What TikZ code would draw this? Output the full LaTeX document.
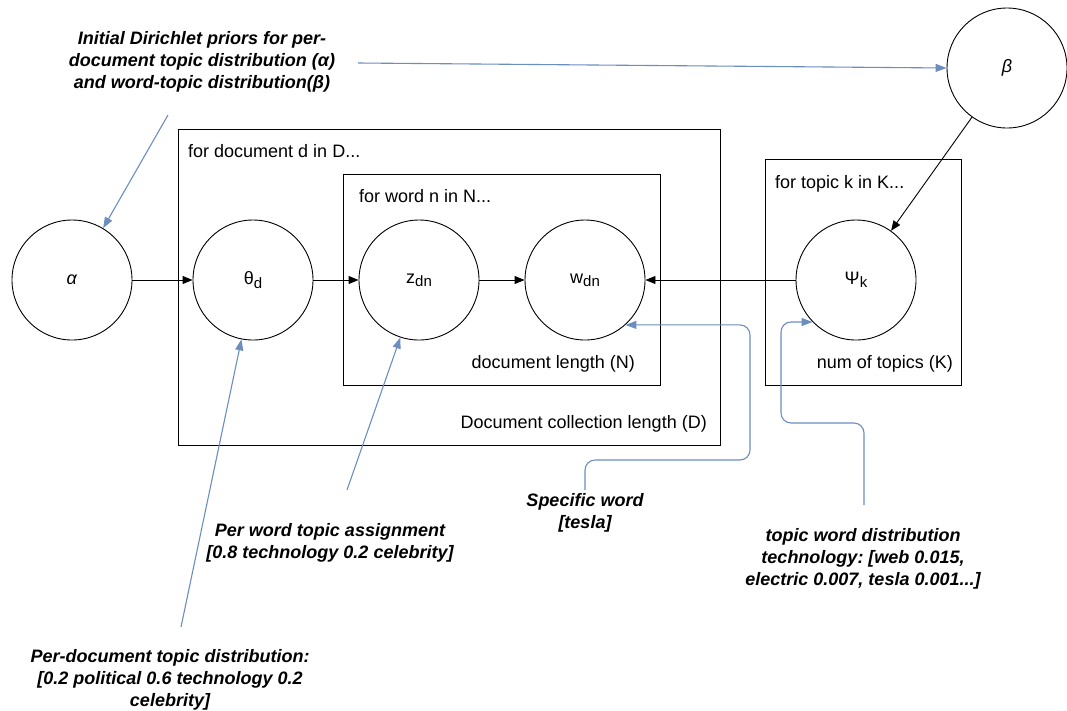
\documentclass[tikz,border=0pt]{standalone}
\usepackage{fontspec}
\setmainfont{Liberation Sans}
\usetikzlibrary{arrows.meta}
\definecolor{annblue}{HTML}{6C8EBF}
\newcommand{\varsub}[1]{\raisebox{-0.35ex}{\fontsize{15}{15}\selectfont #1}}
\frenchspacing
\tikzset{
  var/.style={circle, draw=black, line width=0.9pt, minimum size=120pt, inner sep=0pt, font=\fontsize{18}{21}\selectfont},
  plate/.style={draw=black, line width=0.9pt},
  platelabel/.style={font=\fontsize{18}{21}\selectfont, inner sep=0pt},
  dep/.style={draw=black, line width=0.9pt, -{Triangle[length=10pt,width=8pt]}},
  note/.style={draw=annblue, line width=1.1pt, -{Triangle[length=11pt,width=8pt]}, rounded corners=10pt},
  ann/.style={font=\fontsize{18}{22}\selectfont\bfseries\itshape, align=center, inner sep=0pt},
}
\begin{document}
\begin{tikzpicture}[x=1pt,y=-1pt]
\useasboundingbox (0,0) rectangle (1067,710);
% plates
\draw[plate] (178,129) rectangle (720,445);
\draw[plate] (343,174) rectangle (660,385);
\draw[plate] (765,159) rectangle (961,385);
\node[platelabel, anchor=base west] (pD) at (188,157) {for document d in D...};
\node[platelabel, anchor=base west] (pN) at (359,202) {for word n in N...};
\node[platelabel, anchor=base west] (pK) at (775,188) {for topic k in K...};
\node[platelabel, anchor=base east] (lN) at (635,368) {document length (N)};
\node[platelabel, anchor=base east] (lK) at (953,368) {num of topics (K)};
\node[platelabel, anchor=base east] (lD) at (707,428) {Document collection length (D)};
% variables
\node[var] (alpha) at (72,280) {\textit{α}};
\node[var] (theta) at (253,280) {θ\varsub{d}};
\node[var] (z) at (419,280) {z\varsub{dn}};
\node[var] (w) at (585,280) {w\varsub{dn}};
\node[var] (psi) at (856,280) {Ψ\varsub{k}};
\node[var] (beta) at (1007,68) {\textit{β}};
% dependencies
\draw[dep] (alpha) -- (theta);
\draw[dep] (theta) -- (z);
\draw[dep] (z) -- (w);
\draw[dep] (psi) -- (w);
\draw[dep] (beta) -- (psi);
% annotations
\node[ann] (tInit) at (202,62) {Initial Dirichlet priors for per-\\document topic distribution (α)\\ and word-topic distribution(β)};
\node[ann] (tWord) at (330,543) {Per word topic assignment\\{}[0.8 technology 0.2 celebrity]};
\node[ann] (tDoc) at (170,680) {Per-document topic distribution:\\{}[0.2 political 0.6 technology 0.2\\celebrity]};
\node[ann] (tSpec) at (585,513) {Specific word\\{}[tesla]};
\node[ann] (tTopic) at (863,559) {topic word distribution\\technology: [web 0.015,\\electric 0.007, tesla 0.001...]};
\coordinate (c1) at (358,63);
\coordinate (c2) at (168,115);
\coordinate (c3) at (181,627);
\coordinate (c4) at (347,490);
\coordinate (c5) at (585,490);
\coordinate (c6) at (864,505);
\draw[note] (c1) -- (beta.west);
\draw[note] (c2) -- (alpha.59);
\draw[note] (c3) -- (theta.-101);
\draw[note] (c4) -- (z.-108);
\draw[note] (c5) |- (750,460) |- (w.-48);
\draw[note] (c6) |- (781,423) |- (psi.-136);
\end{tikzpicture}
\end{document}
